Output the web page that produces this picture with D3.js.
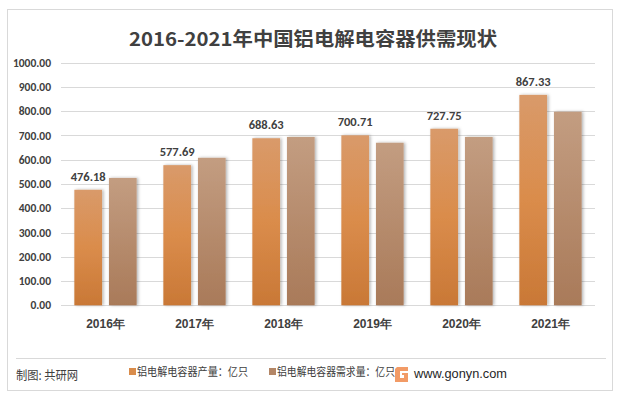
<!DOCTYPE html>
<html><head><meta charset="utf-8">
<script src="https://cdn.jsdelivr.net/npm/d3@7"></script>
<style>
html,body{margin:0;padding:0;background:#fff;}
svg{display:block;font-family:"Microsoft YaHei","Noto Sans CJK SC","Noto Sans",sans-serif;}
</style></head><body>
<svg id="c" width="620" height="397"></svg>
<script>
const years = ["2016年","2017年","2018年","2019年","2020年","2021年"];
const production = [476.18, 577.69, 688.63, 700.71, 727.75, 867.33];
const demand = [525, 608, 694, 670, 694, 798];
const yTicks = [0,100,200,300,400,500,600,700,800,900,1000];
const seriesNames = ["铝电解电容器产量：亿只","铝电解电容器需求量：亿只"];
const titleText = "2016-2021年中国铝电解电容器供需现状";

const svg = d3.select("#c");
const defs = svg.append("defs");
const g1 = defs.append("linearGradient").attr("id","gOr").attr("x1",0).attr("y1",0).attr("x2",0).attr("y2",1);
g1.append("stop").attr("offset","0%").attr("stop-color","#d99a6a");
g1.append("stop").attr("offset","50%").attr("stop-color","#da8c4b");
g1.append("stop").attr("offset","100%").attr("stop-color","#c97836");
const g2 = defs.append("linearGradient").attr("id","gBr").attr("x1",0).attr("y1",0).attr("x2",0).attr("y2",1);
g2.append("stop").attr("offset","0%").attr("stop-color","#c39d81");
g2.append("stop").attr("offset","100%").attr("stop-color","#a97a59");
const f = defs.append("filter").attr("id","sh").attr("x","-30%").attr("y","-10%").attr("width","160%").attr("height","120%");
f.append("feDropShadow").attr("dx",1.5).attr("dy",0).attr("stdDeviation",1.5).attr("flood-color","#000").attr("flood-opacity",0.3);

// frame
svg.append("rect").attr("x",7.5).attr("y",9.5).attr("width",605).attr("height",381).attr("fill","#fff").attr("stroke","#d9d9d9");
svg.append("line").attr("x1",16).attr("x2",606).attr("y1",358.5).attr("y2",358.5).attr("stroke","#d9d9d9");

const x0 = d3.scaleBand().domain(years).range([61,595]).paddingInner(0).paddingOuter(0);
const x1 = d3.scaleBand().domain([0,1]).range([x0.bandwidth()*0.15, x0.bandwidth()*0.85]).paddingInner(0.2);
const y = d3.scaleLinear().domain([0,1000]).range([305.3,62.7]);

// gridlines
svg.append("g").selectAll("line").data(yTicks).join("line")
  .attr("x1",61).attr("x2",595)
  .attr("y1",d=>Math.round(y(d))+0.5).attr("y2",d=>Math.round(y(d))+0.5)
  .attr("stroke","#d9d9d9").attr("stroke-width",1);

// y axis labels
const yAxis = d3.axisLeft(y).tickValues(yTicks).tickFormat(d=>d3.format(".2f")(d)).tickSize(0).tickPadding(0);
const ya = svg.append("g").attr("transform","translate(51,0)").call(yAxis);
ya.select(".domain").remove();
ya.selectAll("text").attr("fill","#404040").attr("font-size","11.5px").attr("font-weight","bold").attr("font-family","Calibri,'Liberation Sans','DejaVu Sans',sans-serif");

// x axis labels
const xAxis = d3.axisBottom(x0).tickSize(0).tickPadding(0);
const xa = svg.append("g").attr("transform","translate(0,319)").call(xAxis);
xa.select(".domain").remove();
xa.selectAll("text").attr("fill","#404040").attr("font-size","12px").attr("font-weight","bold");

// bars
const series = [production, demand];
const fills = ["url(#gOr)","url(#gBr)"];
series.forEach((vals,si)=>{
  svg.append("g").selectAll("rect").data(vals).join("rect")
    .attr("x",(d,i)=>x0(years[i])+x1(si))
    .attr("width",x1.bandwidth())
    .attr("y",d=>y(d))
    .attr("height",d=>y(0)-y(d))
    .attr("fill",fills[si])
    .attr("filter","url(#sh)");
});

// data labels on production
svg.append("g").selectAll("text").data(production).join("text")
  .attr("x",(d,i)=>x0(years[i])+x1(0)+x1.bandwidth()/2)
  .attr("y",d=>y(d)-9)
  .attr("text-anchor","middle")
  .attr("fill","#404040").attr("font-size","12.5px").attr("font-weight","bold")
  .attr("font-family","Calibri,'Liberation Sans','DejaVu Sans',sans-serif")
  .text(d=>d3.format(".2f")(d));

// title
svg.append("text").attr("x",129).attr("y",46)
  .attr("textLength",368).attr("lengthAdjust","spacingAndGlyphs")
  .attr("fill","#404040").attr("font-size","19px").attr("font-weight","bold").text(titleText);

// footer
svg.append("text").attr("x",16).attr("y",380).attr("textLength",62).attr("lengthAdjust","spacingAndGlyphs")
  .attr("fill","#404040").attr("font-size","12.5px").text("制图: 共研网");
const legColors = ["#d98c4b","#b38666"];
const legX = [129,269];
const legW = [111,118];
seriesNames.forEach((n,i)=>{
  svg.append("rect").attr("x",legX[i]).attr("y",368).attr("width",7).attr("height",7).attr("fill",legColors[i]);
  svg.append("text").attr("x",legX[i]+8).attr("y",376).attr("textLength",legW[i]).attr("lengthAdjust","spacingAndGlyphs")
    .attr("fill","#404040").attr("font-size","11.5px").text(n);
});
// logo
const lg = svg.append("g").attr("transform","translate(395,367)");
lg.append("path").attr("d","M2,0 H13 V4 H5 V11 H9 V8 H7 V6 H13 V15 H0 V2 Z").attr("fill","#f08a4b").attr("opacity",0.85);
svg.append("text").attr("x",414).attr("y",378).attr("textLength",93).attr("lengthAdjust","spacingAndGlyphs")
  .attr("fill","#262626").attr("font-size","13.5px")
  .attr("font-family","'Liberation Sans',Arial,sans-serif").text("www.gonyn.com");
</script></body></html>
